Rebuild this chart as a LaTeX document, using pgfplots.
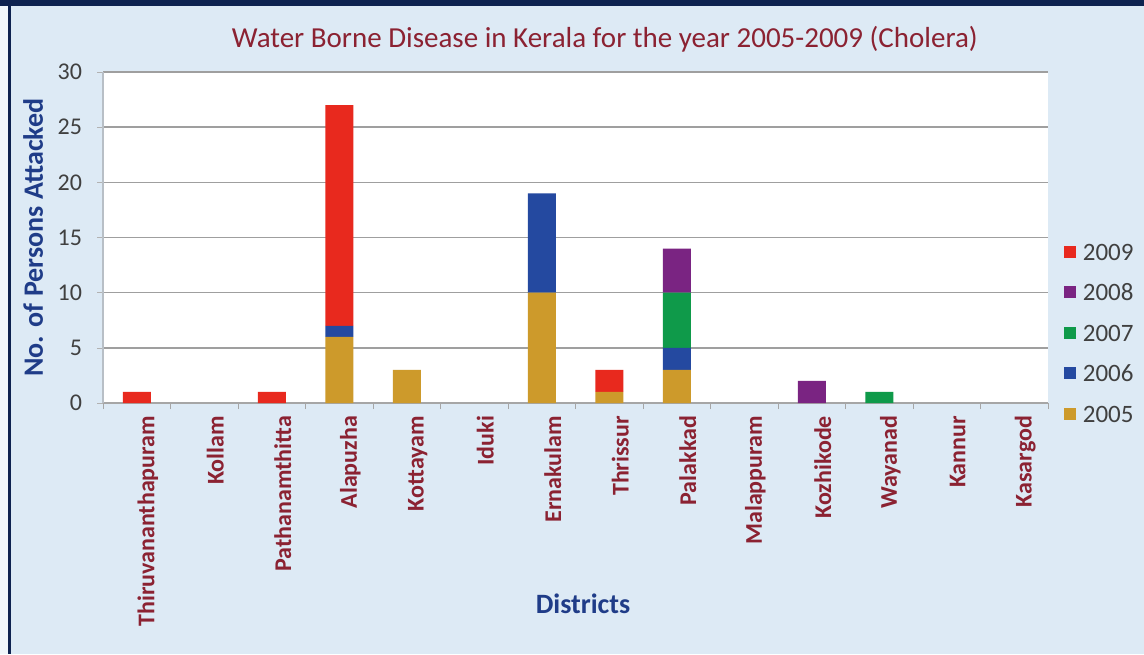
\documentclass[border=0pt]{standalone}
\usepackage{fontspec}
\setmainfont{Carlito}
\usepackage{pgfplots}
\pgfplotsset{compat=1.18}
\definecolor{bgc}{HTML}{DDEAF5}
\definecolor{navy}{HTML}{0E2350}
\definecolor{ttl}{HTML}{8B2232}
\definecolor{lab}{HTML}{1F3C88}
\definecolor{tk}{HTML}{404040}
\definecolor{c09}{HTML}{E8291E}
\definecolor{c08}{HTML}{7A2482}
\definecolor{c07}{HTML}{0F9A4A}
\definecolor{c06}{HTML}{2449A0}
\definecolor{c05}{HTML}{CD9A2B}
\begin{document}
\begin{tikzpicture}
\fill[bgc] (0,0) rectangle (572pt,327pt);
\fill[white!60!bgc] (0,0) rectangle (4pt,324pt);
\fill[navy] (0,324pt) rectangle (572pt,327pt);
\fill[navy] (4pt,0) rectangle (5.5pt,327pt);
\begin{axis}[
  at={(51.5pt,125.5pt)}, anchor=south west,
  scale only axis, width=472.5pt, height=165.5pt,
  ybar stacked, bar width=14pt,
  xmin=-0.5, xmax=13.5, ymin=0, ymax=30,
  ytick={0,5,...,30},
  xtick={0,...,13},
  xticklabels={Thiruvananthapuram,Kollam,Pathanamthitta,Alapuzha,Kottayam,Iduki,Ernakulam,Thrissur,Palakkad,Malappuram,Kozhikode,Wayanad,Kannur,Kasargod},
  xticklabel style={rotate=90, anchor=east, font=\fontsize{12}{13}\selectfont\bfseries, text=ttl, yshift=-5.5pt},
  yticklabel style={font=\fontsize{12}{13}\selectfont, text=tk, xshift=-4pt},
  /pgf/number format/assume math mode=true,
  major x tick style={draw=none},
  minor xtick={-0.5,0.5,...,13.5},
  minor x tick style={gray!70},
  minor tick length=3pt,
  major tick length=3pt,
  tick align=outside,
  xtick pos=bottom, ytick pos=left,
  ytick style={gray!60},
  axis x line*=bottom, axis y line*=left,
  x axis line style={gray!70, line width=0.6pt},
  y axis line style={draw=gray!40!bgc, line width=0.6pt},
  ymajorgrids, grid style={gray!75, line width=0.8pt},
  axis background/.style={fill=white},
  ylabel={No. of Persons Attacked},
  ylabel style={at={(axis description cs:-0.074,0.5)}, anchor=center, font=\fontsize{14}{15}\selectfont\bfseries, text=lab},
  xlabel={Districts},
  xlabel style={at={(axis description cs:0.508,-0.607)}, anchor=center, font=\fontsize{14}{15}\selectfont\bfseries, text=lab},
  title={Water Borne Disease in Kerala for the year 2005-2009 (Cholera)},
  title style={at={(axis description cs:0.531,1.103)}, anchor=center, yshift=-6.5pt, font=\fontsize{14.5}{15}\selectfont, text=ttl},
  legend reversed,
  legend style={at={(1.01,0.211)}, anchor=west, draw=none, fill=none, font=\fontsize{12.5}{13}\selectfont, text=tk,
    nodes={inner sep=0pt, text height=8pt, text depth=0pt}, row sep=12.25pt},
  legend cell align=left,
  /tikz/every odd column/.append style={column sep=3.5pt},
  legend image code/.code={\fill[#1,draw=none] (0pt,-2.75pt) rectangle (6pt,3.25pt);},
]
\addplot[fill=c05, draw=none] coordinates {(0,0)(1,0)(2,0)(3,6)(4,3)(5,0)(6,10)(7,1)(8,3)(9,0)(10,0)(11,0)(12,0)(13,0)};
\addplot[fill=c06, draw=none] coordinates {(0,0)(1,0)(2,0)(3,1)(4,0)(5,0)(6,9)(7,0)(8,2)(9,0)(10,0)(11,0)(12,0)(13,0)};
\addplot[fill=c07, draw=none] coordinates {(0,0)(1,0)(2,0)(3,0)(4,0)(5,0)(6,0)(7,0)(8,5)(9,0)(10,0)(11,1)(12,0)(13,0)};
\addplot[fill=c08, draw=none] coordinates {(0,0)(1,0)(2,0)(3,0)(4,0)(5,0)(6,0)(7,0)(8,4)(9,0)(10,2)(11,0)(12,0)(13,0)};
\addplot[fill=c09, draw=none] coordinates {(0,1)(1,0)(2,1)(3,20)(4,0)(5,0)(6,0)(7,2)(8,0)(9,0)(10,0)(11,0)(12,0)(13,0)};
\legend{2005,2006,2007,2008,2009}
\end{axis}
\pgfresetboundingbox
\path (0,0) rectangle (572pt,327pt);
\end{tikzpicture}
\end{document}
